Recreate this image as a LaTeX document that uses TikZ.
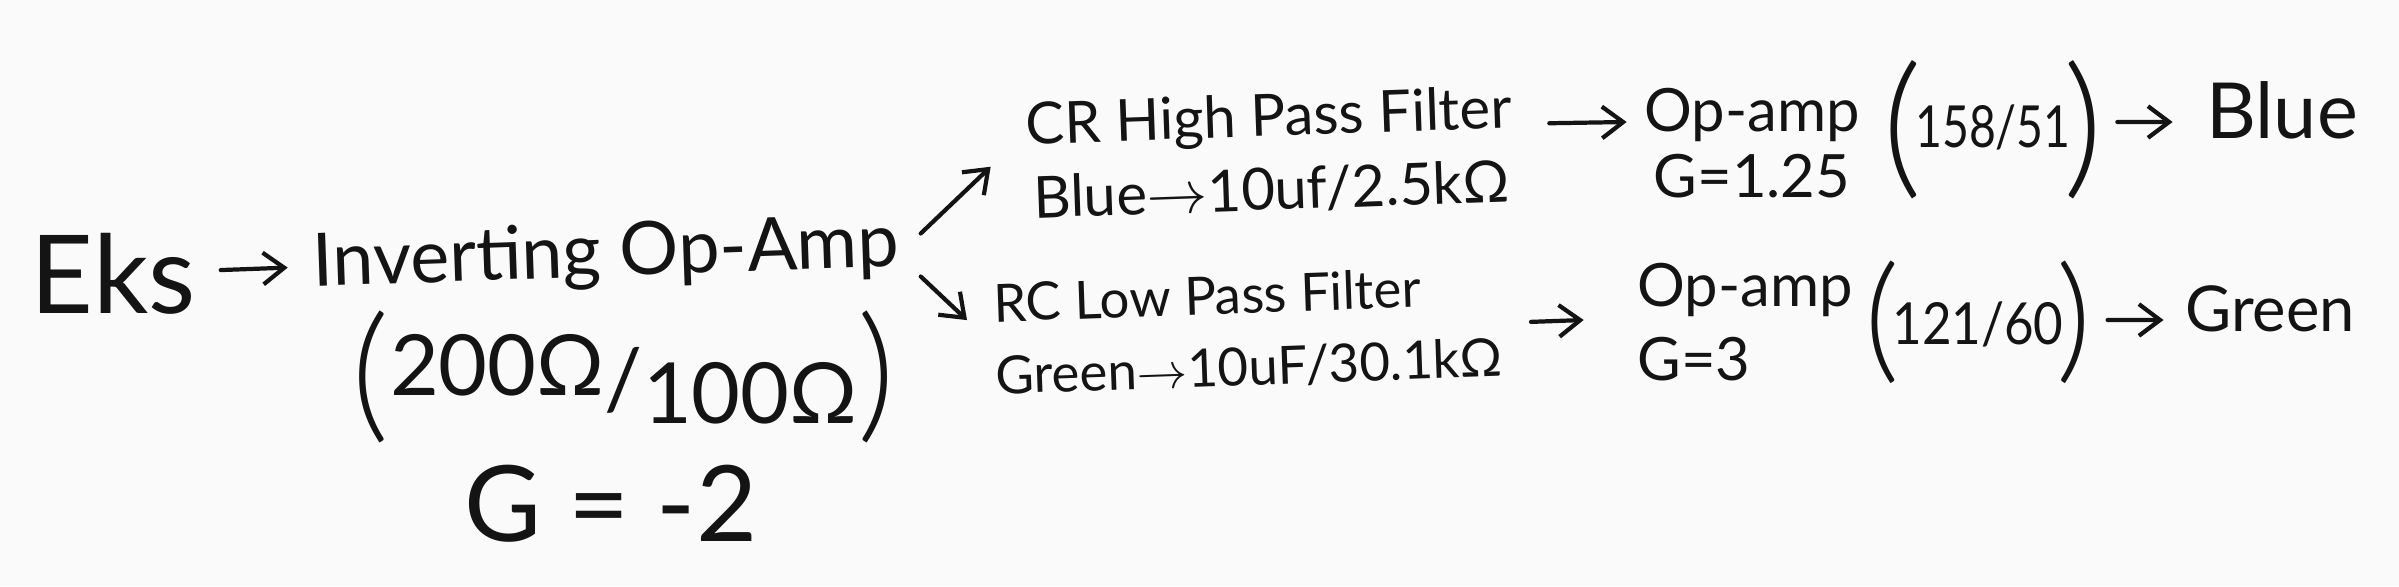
\documentclass[tikz,border=0pt]{standalone}
\usepackage{fontspec}
\setmainfont{Lato}
\newfontfamily\light{Lato Light}
\usepackage{tikz}
\usetikzlibrary{arrows.meta,positioning,calc}
\definecolor{paper}{RGB}{250,250,250}
\definecolor{ink}{RGB}{20,20,20}
\newcommand{\fsz}[2]{\fontsize{#1}{#2}\selectfont}
% tall bracket lowered onto the middle of the text
\newcommand{\tallpar}[3]{\raisebox{#2}{\fsz{#1}{#1}\light#3}}
% narrow hand-written ratio between tall brackets
\newcommand{\ratio}[4]{\tallpar{#1}{#2}{(}\kern-2pt\scalebox{#3}[1]{#4}\kern-2pt\tallpar{#1}{#2}{)}}

\begin{document}
\begin{tikzpicture}[
    >={Straight Barb[length=6pt,width=9pt]},
    txt/.style={text=ink, inner sep=2pt},
    stage/.style={txt, align=center},
    arr/.style={->, draw=ink, line width=1.2pt, line cap=round}
]
    \fill[paper] (0,0) rectangle (23.99,5.86);
    \useasboundingbox (0,0) rectangle (23.99,5.86);

    % first stage
    \node[txt, font={\fsz{31}{36}}] (eks) at (1.13,3.12) {Eks};
    \node[txt, font={\fsz{21}{26}}, rotate=2] (inv) at (6.06,3.30) {Inverting Op-Amp};
    \node[txt, font={\fsz{24}{30}}] (rin) at (6.24,2.09) {\tallpar{42}{-4pt}{(}\raisebox{4pt}{200Ω}/\raisebox{-4pt}{100Ω}\tallpar{42}{-4pt}{)}};
    \node[txt, font={\fsz{30}{36}}] (gin) at (6.11,0.82) {G = -2};

    % filters
    \node[stage, font={\fsz{16.5}{21}}, rotate=2] (hp) at (12.70,4.33) {CR High Pass Filter\\Blue$\rightarrow$10uf/2.5kΩ};
    \node[stage, align=left, font={\fsz{15}{20.5}}, rotate=2] (lp) at (12.48,2.55) {RC Low Pass Filter\\Green$\rightarrow$10uF/30.1kΩ};

    % second op-amps
    \node[stage, font={\fsz{17}{19}}] (opa) at (17.52,4.43) {Op-amp\\G=1.25};
    \node[stage, align=left, font={\fsz{17}{21}}] (opb) at (17.45,2.64) {Op-amp\\G=3};
    \node[txt, font={\fsz{16.5}{18}}] (rb) at (19.93,4.56) {\ratio{44}{-9pt}{0.8}{158/51}};
    \node[txt, font={\fsz{16.5}{18}}] (rg) at (19.78,2.64) {\ratio{39}{-6pt}{0.88}{121/60}};

    % outputs
    \node[txt, font={\fsz{22}{26}}] (blue) at (22.82,4.76) {Blue};
    \node[txt, font={\fsz{18}{22}}] (green) at (22.70,2.77) {Green};

    \draw[arr, shorten <=5pt, shorten >=5pt] (eks) -- (inv);
    \draw[arr] ([shift={(0.14,0.12)}]inv.east) -- ([shift={(-0.29,-0.05)}]hp.west);
    \draw[arr] ([shift={(0.14,-0.31)}]inv.east) -- ([shift={(-0.20,0.20)}]lp.west);
    \draw[arr] ([shift={(0.29,0.21)}]hp.east) -- ([shift={(-0.10,0.21)}]opa.west);
    \draw[arr] ([shift={(0.22,0.0)}]lp.east) -- ([shift={(-0.46,0.02)}]opb.west);
    \draw[arr] ([shift={(0.06,0.08)}]rb.east) -- ([shift={(-0.26,-0.12)}]blue.west);
    \draw[arr] ([shift={(0.08,0.02)}]rg.east) -- ([shift={(-0.14,-0.11)}]green.west);
\end{tikzpicture}
\end{document}
